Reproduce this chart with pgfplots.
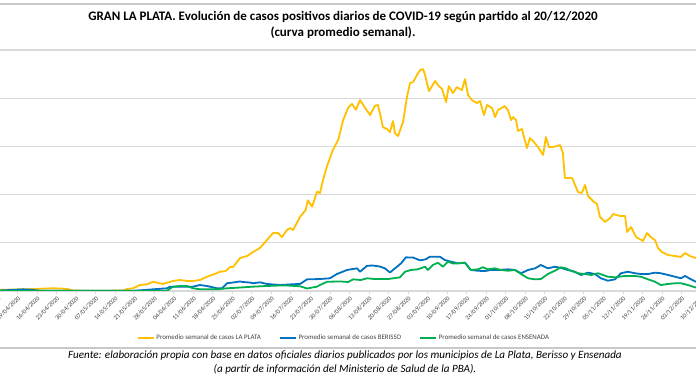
\documentclass[border=0pt]{standalone}
\usepackage{fontspec}
\setmainfont{Carlito}
\usepackage{pgfplots}
\usepackage{pgfplotstable}
\pgfplotsset{compat=1.18}
\definecolor{cLP}{HTML}{FFC000}
\definecolor{cBE}{HTML}{0070C0}
\definecolor{cEN}{HTML}{00B050}
\definecolor{gridc}{HTML}{D9D9D9}
\definecolor{framec}{HTML}{C8C8C8}
\definecolor{tickc}{HTML}{404040}

% day index: 0 = 01/04/2020
\pgfplotstableread{
d v
1.7 1.2
6 1.5
10 1.8
14 2.0
18 2.6
21 2.8
24 2.5
26 2.0
28 0.5
32 0.3
40 0.3
46 0.5
47.3 2.1
49.4 2.8
51.9 6.2
54.4 6.9
56.6 9.6
58.4 8.3
60.2 7.3
61.6 8.6
63.7 10.4
66.3 11.4
68.8 10.4
70.9 10.4
73.4 11.4
75.9 14.8
78.1 17
80.6 20
82.5 20.5
84.2 24.9
85.3 24.9
87.8 34.2
90.3 36.3
92.4 40.4
94.9 44.6
97.4 52.9
99.6 60.1
101.4 60.1
102.8 56
104.6 63.3
105.7 65.3
106.8 63.3
109.3 77
111.3 84
112.1 94
113.6 87.4
115.4 103
116.4 101.6
117.5 115
119.0 130
121.0 146
123.0 157
124.7 177
126.5 190
127.9 194
129.3 188
130.8 198
132.6 190
134.4 182.5
136.1 192
137.2 193
137.9 184.6
139.0 170
140.4 168
141.5 164.9
142.6 176.3
143.3 163.8
144.4 160.7
146.2 175.3
147.6 201.2
148.7 215.7
149.8 216.7
151.2 224
152.3 229.2
153.4 230.2
154.1 224
155.5 207.4
157.7 217.8
158.7 213.6
160.2 209.5
161.6 196
162.6 212.6
164.1 205.3
165.5 211.5
167.3 208.4
168.4 219.8
169.5 203.3
170.9 198
172.7 195
173.8 197
175.2 182.5
176.3 192.9
178.1 189.8
179.2 180.4
180.2 187.7
182.7 191.8
183.8 187.7
184.9 177.3
185.6 180.4
186.7 177.3
187.4 166
188.8 168
190.6 148.3
191.7 158.7
193.1 154.5
194.6 149.3
196.4 141
197.4 159.7
198.5 149.3
199.9 149.3
202.5 151.4
203.5 143.1
204.2 117.2
206.8 117.2
208.9 102.7
210.3 101.6
211.4 110
212.5 98.5
214.3 93.3
215.7 90.2
216.8 76.7
218.6 71.6
220.4 75.7
221.5 79.8
224.0 77.8
225.8 77.8
226.5 61.2
227.9 66.4
229.7 56
232.2 51.9
233.6 60.1
235.4 55
236.5 52.9
237.6 44.6
239.0 40.4
241.2 37.3
243.7 36.3
245.8 35.3
247.3 39.4
249.0 36.3
251.2 34.2
256 32
263 30
}\laplata

\pgfplotstableread{
d v
1.7 0.5
10 1.7
11.8 1.5
16 0.3
25.4 0.2
50 0.3
55.5 1.5
61.6 2.8
62.7 4.5
68.8 4.5
70.9 4.5
73.4 6.2
75.9 5.2
79.5 2.8
81.3 2.8
83.1 8.0
85.2 8.8
87.8 9.9
88.8 9.3
91.3 8.8
92.4 8.0
94.9 9.0
97.4 7.3
102.1 6.2
106.7 7.0
109.3 7.3
111.8 12.1
116.4 12.4
120.0 13.2
122.5 17.6
126.1 21.8
129.7 23.5
130.8 20.0
133.3 26.2
135.4 26.4
137.9 25.4
139.7 23.5
141.5 19.2
143.3 23.5
145.5 28.7
147.2 34.9
149.8 34.7
152.3 31.8
154.4 32.9
155.8 35.6
159.4 35.6
161.2 32.1
163.4 30.4
165.9 28.7
168.4 29.3
170.5 21.8
173.0 21.0
175.6 20.7
177.7 21.8
180.2 21.8
183.8 22.5
186.3 21.8
188.5 18.4
191.0 21.8
193.5 23.5
195.6 27.0
198.1 23.5
200.6 25.2
202.8 23.9
205.3 21.8
207.8 20.0
210.0 16.6
212.5 19.0
215.0 17.6
217.1 13.2
219.6 10.7
222.2 12.1
224.3 18.4
226.8 20.0
229.3 18.4
231.5 17.6
234.0 17.6
236.5 19.0
238.6 18.4
241.2 16.6
243.7 14.8
245.8 13.2
247.3 15.6
249.4 12.1
251.2 9.6
256 8
263 7
}\berisso

\pgfplotstableread{
d v
1.7 0.2
60 0.2
61.6 0.3
62.0 1.0
63.7 4.5
66.3 5.2
68.8 5.2
70.9 2.8
73.4 1.8
79.5 1.8
83.1 2.8
87.8 3.6
92.4 4.5
97.4 5.2
102.1 5.7
104.6 5.7
109.3 4.9
111.8 2.6
114.0 3.8
115.4 4.5
116.4 6.2
119.0 9.6
123.6 9.9
126.5 9.3
128.3 12.1
131.1 11.4
133.3 13.2
136.1 12.4
140.8 12.4
145.1 14.2
146.9 20.0
149.0 21.8
151.5 22.5
154.1 25.2
155.1 21.8
156.9 27.0
158.7 29.3
160.5 25.2
162.3 30.4
164.1 28.5
165.9 28.7
168.4 29.3
170.5 21.8
173.0 22.5
174.8 24.6
176.6 22.5
179.1 23.5
181.3 21.8
183.8 21.0
186.3 21.8
188.5 17.6
191.0 13.2
193.5 12.1
195.6 12.4
198.1 17.6
200.6 21.0
202.8 24.6
204.6 23.5
206.4 21.0
208.9 18.4
211.4 17.6
213.6 16.6
216.1 18.4
219.6 14.8
222.2 14.2
225.7 15.6
229.3 15.6
231.5 14.8
234.0 12.1
236.5 9.6
238.6 6.2
241.2 7.3
243.7 8.0
245.8 8.0
248.3 6.2
250.8 3.8
256 3
263 2.5
}\ensenada

\begin{document}
\begin{tikzpicture}
\path[use as bounding box] (0pt,0pt) rectangle (696pt,385pt);
\clip (0pt,0pt) rectangle (696pt,385pt);
% frame lines
\draw[framec, line width=2pt] (0pt,381pt) -- (696pt,381pt);
\draw[framec, line width=2.5pt] (0pt,37pt) -- (696pt,37pt);
% title
\node[font=\bfseries\fontsize{13}{15}\selectfont, text=black] at (343pt,368pt) {GRAN LA PLATA. Evolución de casos positivos diarios de COVID-19 según partido al 20/12/2020};
\node[font=\bfseries\fontsize{13}{15}\selectfont, text=black] at (343pt,352pt) {(curva promedio semanal).};
% source
\node[font=\itshape\fontsize{11.1}{13}\selectfont, text=black] at (345pt,29pt) {Fuente: elaboración propia con base en datos oficiales diarios publicados por los municipios de La Plata, Berisso y Ensenada};
\node[font=\itshape\fontsize{11.1}{13}\selectfont, text=black] at (345pt,16pt) {(a partir de información del Ministerio de Salud de la PBA).};
\begin{axis}[
  at={(-18.8pt,94pt)}, anchor=south west,
  scale only axis, width=753.3pt, height=241pt,
  xmin=-5, xmax=265, ymin=0, ymax=250,
  separate axis lines,
  axis x line*=bottom, axis y line*=left,
  y axis line style={draw=none},
  x axis line style={draw=gridc, line width=1.2pt},
  ytick={0,50,100,150,200,250}, yticklabels={},
  ytick style={draw=none},
  ymajorgrids, major grid style={draw=gridc, line width=1.2pt},
  xtick={1,8,...,260},
  xticklabels={02/04/2020,09/04/2020,16/04/2020,23/04/2020,30/04/2020,07/05/2020,14/05/2020,21/05/2020,28/05/2020,04/06/2020,11/06/2020,18/06/2020,25/06/2020,02/07/2020,09/07/2020,16/07/2020,23/07/2020,30/07/2020,06/08/2020,13/08/2020,20/08/2020,27/08/2020,03/09/2020,10/09/2020,17/09/2020,24/09/2020,01/10/2020,08/10/2020,15/10/2020,22/10/2020,29/10/2020,05/11/2020,12/11/2020,19/11/2020,26/11/2020,03/12/2020,10/12/2020,17/12/2020},
  xtick style={draw=gridc, line width=0.8pt},
  tick align=outside, major tick length=3pt,
  xticklabel style={rotate=45, anchor=north east, font=\fontsize{6.3}{7}\selectfont, text=tickc, inner sep=1pt},
  legend columns=3,
  legend style={at={(0.4816,-0.195)}, anchor=center, draw=none, fill=none,
    font=\fontsize{6.9}{8}\selectfont, text=tickc,
    /tikz/every even column/.append style={column sep=16pt}},
  legend cell align=left,
  legend image code/.code={\draw[#1, line width=1.6pt] (0pt,0pt) -- (16pt,0pt);},
  every axis plot/.append style={line width=1.8pt, line join=round},
]
\addplot[cLP, no markers] table[x=d,y=v] {\laplata};
\addlegendentry{Promedio semanal de casos LA PLATA}
\addplot[cBE, no markers] table[x=d,y=v] {\berisso};
\addlegendentry{Promedio semanal de casos BERISSO}
\addplot[cEN, no markers] table[x=d,y=v] {\ensenada};
\addlegendentry{Promedio semanal de casos ENSENADA}
\end{axis}
\end{tikzpicture}
\end{document}
